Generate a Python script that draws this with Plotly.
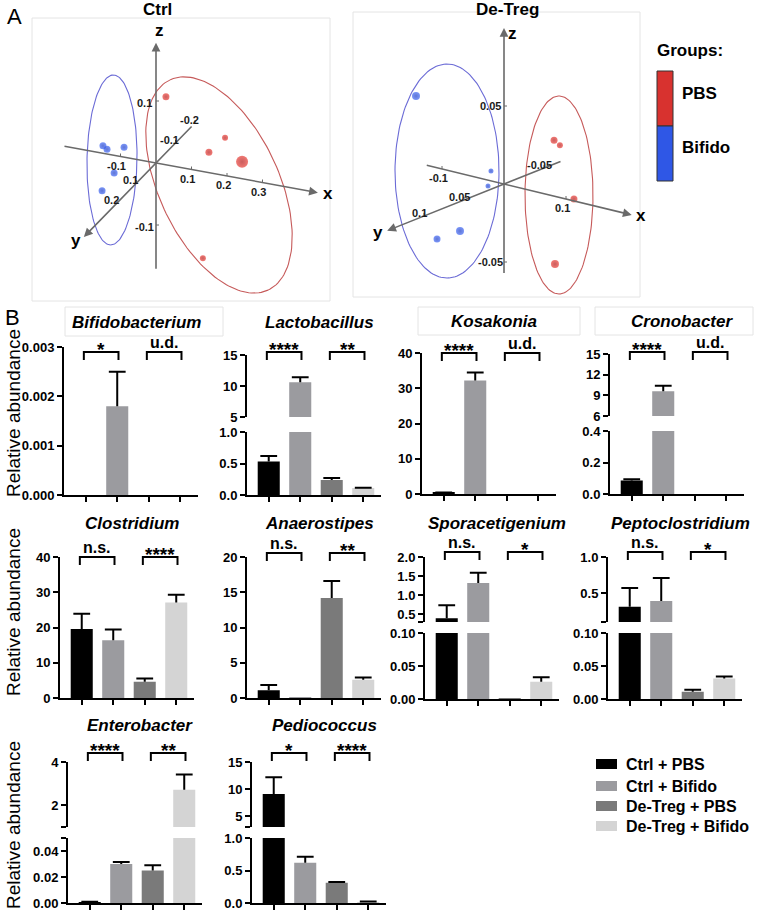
import numpy as np
import plotly.graph_objects as go

W, H = 762, 912
FONT = "Liberation Sans, Arial, Helvetica, sans-serif"

# ---------------- Panel A data: PCoA coordinates (PC1 = x, PC2 = y, PC3 = z) ----------------
ctrl_pbs_pc1 = [0.017, 0.167, 0.149, 0.226, 0.143]
ctrl_pbs_pc2 = [-0.02, -0.05, 0.0, -0.03, 0.02]
ctrl_pbs_pc3 = [0.102, 0.042, 0.033, 0.016, -0.132]
ctrl_bifido_pc1 = [-0.122, -0.116, -0.090, -0.074, -0.086]
ctrl_bifido_pc2 = [0.05, 0.04, 0.0, 0.08, 0.12]
ctrl_bifido_pc3 = [0.031, 0.023, 0.016, 0.002, -0.015]

detreg_pbs_pc1 = [0.042, 0.045, 0.087, 0.0435]
detreg_pbs_pc2 = [-0.03, -0.035, -0.02, -0.03]
detreg_pbs_pc3 = [0.026, 0.022, -0.0053, -0.0533]
detreg_bifido_pc1 = [-0.0645, -0.021, -0.0129, 0.0065, -0.0177]
detreg_bifido_pc2 = [0.06, 0.0, 0.01, 0.06, 0.07]
detreg_bifido_pc3 = [0.0625, 0.0063, -0.0005, -0.0172, -0.0226]

ctrl_ticks_x = [-0.1, 0.1, 0.2, 0.3]
ctrl_ticks_y = [-0.2, -0.1, 0.1, 0.2]
ctrl_ticks_z = [-0.1, 0.1]
detreg_ticks_x = [-0.1, 0.1]
detreg_ticks_y = [-0.05, 0.05, 0.1]
detreg_ticks_z = [-0.05, 0.05]

# ---------------- Panel B data: relative abundance (mean, SEM) ----------------
groups = ["Ctrl + PBS", "Ctrl + Bifido", "De-Treg + PBS", "De-Treg + Bifido"]

bifidobacterium_mean = [0.0, 0.0018, 0.0, 0.0]
bifidobacterium_sem = [0.0, 0.0007, 0.0, 0.0]
lactobacillus_mean = [0.53, 10.6, 0.24, 0.11]
lactobacillus_sem = [0.09, 0.8, 0.03, 0.005]
kosakonia_mean = [0.4, 32.2, 0.0, 0.0]
kosakonia_sem = [0.05, 2.3, 0.0, 0.0]
cronobacter_mean = [0.086, 9.6, 0.0, 0.0]
cronobacter_sem = [0.008, 0.8, 0.0, 0.0]
clostridium_mean = [19.6, 16.4, 4.6, 27.1]
clostridium_sem = [4.3, 3.0, 0.9, 2.2]
anaerostipes_mean = [1.1, 0.05, 14.2, 2.6]
anaerostipes_sem = [0.75, 0.0, 2.4, 0.3]
sporacetigenium_mean = [0.40, 1.32, 0.001, 0.026]
sporacetigenium_sem = [0.34, 0.27, 0.0, 0.007]
peptoclostridium_mean = [0.31, 0.39, 0.011, 0.031]
peptoclostridium_sem = [0.26, 0.32, 0.003, 0.003]
enterobacter_mean = [0.0006, 0.030, 0.025, 2.72]
enterobacter_sem = [0.0003, 0.0015, 0.004, 0.7]
pediococcus_mean = [9.1, 0.62, 0.31, 0.015]
pediococcus_sem = [3.1, 0.09, 0.012, 0.01]

bifidobacterium_sig = ["*", "u.d."]
lactobacillus_sig = ["****", "**"]
kosakonia_sig = ["****", "u.d."]
cronobacter_sig = ["****", "u.d."]
clostridium_sig = ["n.s.", "****"]
anaerostipes_sig = ["n.s.", "**"]
sporacetigenium_sig = ["n.s.", "*"]
peptoclostridium_sig = ["n.s.", "*"]
enterobacter_sig = ["****", "**"]
pediococcus_sig = ["*", "****"]

# y-axis segments (value range + tick labels), top segment first
bifidobacterium_axis = [([0, 0.003], [0, 0.001, 0.002, 0.003], ["0.000", "0.001", "0.002", "0.003"])]
lactobacillus_axis = [([5, 15], [5, 10, 15], ["5", "10", "15"]),
                      ([0, 1.0], [0, 0.5, 1.0], ["0.0", "0.5", "1.0"])]
kosakonia_axis = [([0, 40], [0, 10, 20, 30, 40], ["0", "10", "20", "30", "40"])]
cronobacter_axis = [([6, 15], [6, 9, 12, 15], ["6", "9", "12", "15"]),
                    ([0, 0.4], [0, 0.2, 0.4], ["0.0", "0.2", "0.4"])]
clostridium_axis = [([0, 40], [0, 10, 20, 30, 40], ["0", "10", "20", "30", "40"])]
anaerostipes_axis = [([0, 20], [0, 5, 10, 15, 20], ["0", "5", "10", "15", "20"])]
sporacetigenium_axis = [([0.3, 2.0], [0.3, 0.5, 1.0, 1.5, 2.0], ["", "0.5", "1.0", "1.5", "2.0"]),
                        ([0, 0.10], [0, 0.05, 0.10], ["0.00", "0.05", "0.10"])]
peptoclostridium_axis = [([0.1, 1.0], [0.1, 0.5, 1.0], ["", "0.5", "1.0"]),
                         ([0, 0.10], [0, 0.05, 0.10], ["0.00", "0.05", "0.10"])]
enterobacter_axis = [([1, 4], [1, 2, 4], ["", "2", "4"]),
                     ([0, 0.05], [0, 0.02, 0.04, 0.05], ["0.00", "0.02", "0.04", ""])]
pediococcus_axis = [([3, 15], [3, 5, 10, 15], ["", "5", "10", "15"]),
                    ([0, 1.0], [0, 0.5, 1.0], ["0.0", "0.5", "1.0"])]

# ---------------- styles ----------------
bar_colors = ["#000000", "#9b9b9f", "#7a7a7a", "#d4d4d4"]
RED, BLUE = "#d8322f", "#2f57e6"

fig = go.Figure()
layout = dict(width=W, height=H, margin=dict(l=0, r=0, t=0, b=0), template="none",
              paper_bgcolor="white", plot_bgcolor="rgba(0,0,0,0)", showlegend=False,
              font=dict(family=FONT, color="black"))
annotations, shapes = [], []
axis_n = [0]


def add_axes(xpx, ypx, xr, yr, xo, yo):
    axis_n[0] += 1
    s = "" if axis_n[0] == 1 else str(axis_n[0])
    layout["xaxis" + s] = dict(domain=[xpx[0] / W, xpx[1] / W], range=xr, anchor="y" + s, **xo)
    layout["yaxis" + s] = dict(domain=[1 - ypx[1] / H, 1 - ypx[0] / H], range=yr, anchor="x" + s, **yo)
    return "x" + s, "y" + s


def txt(x, y, text, size, xref="paper", yref="paper", weight="bold", style="normal",
        xanchor="center", yanchor="middle", angle=0, color="black"):
    if xref == "paper":
        x = x / W
    if yref == "paper":
        y = 1 - y / H
    annotations.append(dict(x=x, y=y, xref=xref, yref=yref, text=text, showarrow=False,
                            xanchor=xanchor, yanchor=yanchor, textangle=angle,
                            font=dict(family=FONT, size=size, color=color, weight=weight, style=style)))


def frame(x0, y0, x1, y1, color="#e4e4e4"):
    shapes.append(dict(type="rect", xref="paper", yref="paper", x0=x0 / W, x1=x1 / W,
                       y0=1 - y1 / H, y1=1 - y0 / H, line=dict(color=color, width=1)))


# ================= Panel A (3D PCoA drawn as a projection) =================
hid = dict(visible=False, fixedrange=True, showgrid=False, zeroline=False)
pa_x, pa_y = add_axes((0, W), (0, 305), [0, W], [305, 0], hid, hid)

panels_A = [
    dict(title="Ctrl", title_xy=(157, 10), frame=(32, 18, 330, 301),
         origin=(156, 163), ex=(355, 65), ey=(-195, 200), ez=(0, -620),
         xlim=(-0.262, 0.456), ylim=(-0.19, 0.37), zlim=(-0.173, 0.194),
         ticks=(ctrl_ticks_x, ctrl_ticks_y, ctrl_ticks_z),
         off=((-4, 9), (-6, -3), (-12, 2)),
         lab_off=((10, 1), (-8, 3), (3, -12)),
         pbs=(ctrl_pbs_pc1, ctrl_pbs_pc2, ctrl_pbs_pc3), pbs_size=[7, 6, 7, 12, 6],
         bif=(ctrl_bifido_pc1, ctrl_bifido_pc2, ctrl_bifido_pc3), bif_size=[7, 7, 7, 7, 7],
         ell=[((112, 160), 85, 25, 91, "#6b6bd6"), ((219, 185), 116, 60, 65, "#c65a5a")]),
    dict(title="De-Treg", title_xy=(507, 10), frame=(353, 12, 640, 297),
         origin=(504, 184), ex=(620, 150), ey=(-800, 320), ez=(0, -1560),
         xlim=(-0.127, 0.206), ylim=(-0.0725, 0.146), zlim=(-0.058, 0.1),
         ticks=(detreg_ticks_x, detreg_ticks_y, detreg_ticks_z),
         off=((-4, 9), (-5, -3), (-14, 0)),
         lab_off=((9, 1), (-9, 2), (8, 5)),
         pbs=(detreg_pbs_pc1, detreg_pbs_pc2, detreg_pbs_pc3), pbs_size=[7, 6, 7, 8],
         bif=(detreg_bifido_pc1, detreg_bifido_pc2, detreg_bifido_pc3), bif_size=[8, 5, 5, 8, 7],
         ell=[((447, 171), 107, 52, 90, "#6b6bd6"), ((559, 195), 99, 34, 90, "#c65a5a")]),
]


def proj(p, xs, ys, zs):
    ox, oy = p["origin"]
    X = [ox + a * p["ex"][0] + b * p["ey"][0] + c * p["ez"][0] for a, b, c in zip(xs, ys, zs)]
    Y = [oy + a * p["ex"][1] + b * p["ey"][1] + c * p["ez"][1] for a, b, c in zip(xs, ys, zs)]
    return X, Y


for p in panels_A:
    frame(*p["frame"])
    txt(p["title_xy"][0], p["title_xy"][1], p["title"], 17)
    # ellipses
    for (cx, cy), a, b, ang, col in p["ell"]:
        t = np.linspace(0, 2 * np.pi, 160)
        ph = np.radians(ang)
        ex_ = cx + a * np.cos(t) * np.cos(ph) - b * np.sin(t) * np.sin(ph)
        ey_ = cy + a * np.cos(t) * np.sin(ph) + b * np.sin(t) * np.cos(ph)
        fig.add_trace(go.Scatter(x=ex_, y=ey_, mode="lines", line=dict(color=col, width=1.1),
                                 xaxis=pa_x, yaxis=pa_y, hoverinfo="skip"))
    # axes with arrows
    dims = [("x", p["xlim"]), ("y", p["ylim"]), ("z", p["zlim"])]
    tickx, ticky = [], []
    for k, (name, (lo, hi)) in enumerate(dims):
        v0 = [0, 0, 0]; v1 = [0, 0, 0]
        v0[k] = lo; v1[k] = hi
        (ax0, ax1), (ay0, ay1) = proj(p, [v0[0], v1[0]], [v0[1], v1[1]], [v0[2], v1[2]])
        annotations.append(dict(x=ax1, y=ay1, ax=ax0, ay=ay0, xref=pa_x, yref=pa_y, axref=pa_x, ayref=pa_y,
                                text="", showarrow=True, arrowhead=2, arrowsize=1.1, arrowwidth=1.6,
                                arrowcolor="#6a6a6a", standoff=0))
        lo_ = p["lab_off"][k]
        txt(ax1 + lo_[0], ay1 + lo_[1], name, 17, xref=pa_x, yref=pa_y)
        for tv in p["ticks"][k]:
            v = [0, 0, 0]; v[k] = tv
            (tx,), (ty,) = proj(p, [v[0]], [v[1]], [v[2]])
            if k == 2:
                tickx += [tx, tx + 3, None]; ticky += [ty, ty, None]
            else:
                tickx += [tx, tx, None]; ticky += [ty, ty - 3, None]
            o = p["off"][k]
            txt(tx + o[0], ty + o[1], f"{tv:g}", 11, xref=pa_x, yref=pa_y, color="#1a1a1a")
    fig.add_trace(go.Scatter(x=tickx, y=ticky, mode="lines", line=dict(color="#6a6a6a", width=1),
                             xaxis=pa_x, yaxis=pa_y, hoverinfo="skip"))
    # points
    for (xs, ys, zs), sizes, col, dark in [(p["pbs"], p["pbs_size"], "#ea3f38", "#b41818"),
                                           (p["bif"], p["bif_size"], "#4168f4", "#1a3ac4")]:
        X, Y = proj(p, xs, ys, zs)
        fig.add_trace(go.Scatter(x=X, y=Y, mode="markers", xaxis=pa_x, yaxis=pa_y, hoverinfo="skip",
                                 marker=dict(size=sizes, color=col, line=dict(width=0),
                                             gradient=dict(type="radial", color=dark))))

# Groups legend
txt(655, 50, "Groups:", 17, xanchor="left")
shapes.append(dict(type="rect", xref="paper", yref="paper", x0=657 / W, x1=673 / W,
                   y0=1 - 126 / H, y1=1 - 71 / H, fillcolor=RED, line=dict(color="#333", width=1)))
shapes.append(dict(type="rect", xref="paper", yref="paper", x0=657 / W, x1=673 / W,
                   y0=1 - 181 / H, y1=1 - 126 / H, fillcolor=BLUE, line=dict(color="#333", width=1)))
txt(680, 93, "PBS", 17, xanchor="left")
txt(680, 148, "Bifido", 17, xanchor="left")
txt(5, 17, "A", 22, weight="normal", xanchor="left")

# ================= Panel B (bar charts) =================
XR = [-0.69, 3.55]
PX_PER = 31.5


def bar_chart(title, means, sems, sig, axis_def, x0, seg_px, brk_y, title_y):
    x1 = x0 + (XR[1] - XR[0]) * PX_PER
    xs = list(range(len(means)))
    last = None
    for i, ((rng, tv, tt), ypx) in enumerate(zip(axis_def, seg_px)):
        bottom = i == len(axis_def) - 1
        xo = dict(showgrid=False, zeroline=False, showticklabels=False, fixedrange=True,
                  showline=bottom, linecolor="black", linewidth=2,
                  ticks="outside" if bottom else "", tickvals=xs, ticklen=5, tickwidth=2, tickcolor="black")
        yo = dict(showgrid=False, zeroline=False, fixedrange=True, showline=True, linecolor="black",
                  linewidth=2, ticks="outside", ticklen=5, tickwidth=2, tickcolor="black",
                  tickvals=tv, ticktext=tt,
                  tickfont=dict(family=FONT, size=13, color="black", weight="bold"))
        xa, ya = add_axes((x0, x1), ypx, XR, rng, xo, yo)
        fig.add_trace(go.Bar(x=xs, y=means, width=0.7, marker=dict(color=bar_colors, line=dict(width=0)),
                             xaxis=xa, yaxis=ya, hoverinfo="skip"))
        lx, ly, cx, cy = [], [], [], []
        for xi, m, e in zip(xs, means, sems):
            if e > 0:
                lx += [xi, xi, None]; ly += [m, m + e, None]
                cx.append(xi); cy.append(m + e)
        fig.add_trace(go.Scatter(x=lx, y=ly, mode="lines", line=dict(color="black", width=2),
                                 xaxis=xa, yaxis=ya, hoverinfo="skip"))
        fig.add_trace(go.Scatter(x=cx, y=cy, mode="markers", xaxis=xa, yaxis=ya, hoverinfo="skip",
                                 marker=dict(symbol="line-ew", size=12, line=dict(color="black", width=2))))
        last = xa
    # title
    txt(1.6, title_y, title, 17, xref=last, style="italic")
    # significance brackets
    for (i, j), lab in zip([(0, 1), (2, 3)], sig):
        yt = 1 - brk_y / H
        yb = 1 - (brk_y + 8) / H
        shapes.append(dict(type="path", xref=last, yref="paper",
                           path=f"M {i - 0.06},{yb} L {i - 0.06},{yt} L {j + 0.04},{yt} L {j + 0.04},{yb}",
                           line=dict(color="black", width=2)))
        if "*" in lab:
            txt((i + j) / 2, brk_y - 3, lab, 19, xref=last)
        else:
            txt((i + j) / 2, brk_y - 10, lab, 16, xref=last)


bar_chart("Bifidobacterium", bifidobacterium_mean, bifidobacterium_sem, bifidobacterium_sig,
          bifidobacterium_axis, 64, [(347, 495)], 352, 322)
bar_chart("Lactobacillus", lactobacillus_mean, lactobacillus_sem, lactobacillus_sig,
          lactobacillus_axis, 247, [(355, 417), (432, 495)], 352, 322)
bar_chart("Kosakonia", kosakonia_mean, kosakonia_sem, kosakonia_sig,
          kosakonia_axis, 422, [(353, 494)], 353, 321)
bar_chart("Cronobacter", cronobacter_mean, cronobacter_sem, cronobacter_sig,
          cronobacter_axis, 610, [(354, 416), (431, 494)], 352, 321)
bar_chart("Clostridium", clostridium_mean, clostridium_sem, clostridium_sig,
          clostridium_axis, 60, [(557, 698)], 557, 523)
bar_chart("Anaerostipes", anaerostipes_mean, anaerostipes_sem, anaerostipes_sig,
          anaerostipes_axis, 247, [(557, 698)], 553, 523)
bar_chart("Sporacetigenium", sporacetigenium_mean, sporacetigenium_sem, sporacetigenium_sig,
          sporacetigenium_axis, 425, [(557, 622), (633, 699)], 552, 523)
bar_chart("Peptoclostridium", peptoclostridium_mean, peptoclostridium_sem, peptoclostridium_sig,
          peptoclostridium_axis, 608, [(557, 622), (633, 699)], 552, 523)
bar_chart("Enterobacter", enterobacter_mean, enterobacter_sem, enterobacter_sig,
          enterobacter_axis, 68, [(762, 827), (838, 903)], 753, 725)
bar_chart("Pediococcus", pediococcus_mean, pediococcus_sem, pediococcus_sig,
          pediococcus_axis, 252, [(762, 827), (838, 903)], 753, 725)

# faint panel frames around row-1 titles
frame(65, 307, 223, 336)
frame(418, 307, 580, 335)
frame(595, 307, 753, 335)

# y labels and panel letter
for yc in [413, 612, 825]:
    txt(13, yc, "Relative abundance", 19, weight="normal", angle=-90)
txt(3, 317, "B", 22, weight="normal", xanchor="left")

# group legend for panel B
for k, (g, c) in enumerate(zip(groups, bar_colors)):
    yc = [764, 786, 806, 826][k]
    shapes.append(dict(type="rect", xref="paper", yref="paper", x0=596 / W, x1=617 / W,
                       y0=1 - (yc + 5) / H, y1=1 - (yc - 5) / H, fillcolor=c, line=dict(width=0)))
    txt(624, yc, g, 16, xanchor="left")

layout["annotations"] = annotations
layout["shapes"] = shapes
fig.update_layout(**layout)
fig.write_html("out.html", config={"displayModeBar": False},
               post_script="document.body.style.margin='0';document.body.style.padding='0';"
                           "document.body.style.overflow='hidden';")
